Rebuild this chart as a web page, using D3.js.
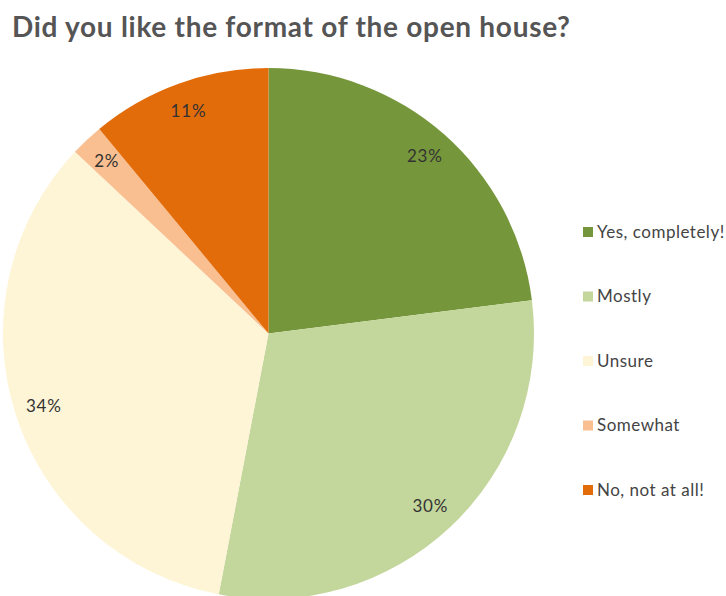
<!DOCTYPE html>
<html>
<head>
<meta charset="utf-8">
<script src="https://cdn.jsdelivr.net/npm/d3@7"></script>
<style>
  html, body { margin: 0; padding: 0; background: #fff; }
  svg { display: block; }
  text { font-family: Lato, "Open Sans", sans-serif; }
</style>
</head>
<body>
<svg id="chart" width="726" height="596"></svg>
<script>
const title = "Did you like the format of the open house?";
const categories = ["Yes, completely!", "Mostly", "Unsure", "Somewhat", "No, not at all!"];
const shares = [23, 30, 34, 2, 11];
const colors = ["#76963b", "#c3d69b", "#fef5d6", "#f9bf90", "#e36c0a"];

const svg = d3.select("#chart");
const cx = 268.5, cy = 333.5, R = 265.5;

svg.append("text")
  .attr("x", 12).attr("y", 37)
  .attr("font-size", 28).attr("font-weight", 700)
  .attr("fill", "#555555")
  .attr("textLength", 558).attr("lengthAdjust", "spacing")
  .text(title);

const data = categories.map((c, i) => ({ name: c, value: shares[i], color: colors[i] }));
const pie = d3.pie().value(d => d.value).sort(null);
const arcs = pie(data);
const arc = d3.arc().innerRadius(0).outerRadius(R);
const labelArc = d3.arc().innerRadius(R * 0.89).outerRadius(R * 0.89);

const g = svg.append("g").attr("transform", `translate(${cx},${cy})`);
g.selectAll("path.slice").data(arcs).join("path")
  .attr("class", "slice")
  .attr("d", arc)
  .attr("fill", d => d.data.color);

g.selectAll("text.pct").data(arcs).join("text")
  .attr("class", "pct")
  .attr("transform", d => `translate(${labelArc.centroid(d)})`)
  .attr("text-anchor", "middle")
  .attr("dy", "0.35em")
  .attr("font-size", 17)
  .attr("letter-spacing", 0.8)
  .attr("fill", "#333333")
  .text(d => d.data.value + "%");

// legend
const legendY = d3.scalePoint().domain(categories).range([232, 490]);
const item = svg.append("g").selectAll("g").data(data).join("g")
  .attr("transform", d => `translate(583,${legendY(d.name)})`);
item.append("rect")
  .attr("x", 0).attr("y", -5).attr("width", 10).attr("height", 10)
  .attr("fill", d => d.color);
item.append("text")
  .attr("x", 14).attr("dy", "0.35em")
  .attr("font-size", 17).attr("letter-spacing", 0.5)
  .attr("fill", "#444444")
  .text(d => d.name);
</script>
</body>
</html>
